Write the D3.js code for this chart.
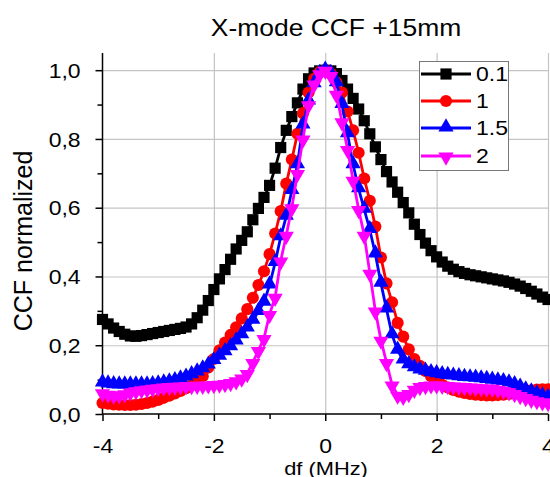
<!DOCTYPE html>
<meta charset="utf-8">
<script src="https://d3js.org/d3.v7.min.js"></script>
<style>
  body { margin: 0; background: #fff; }
  text { font-family: "Liberation Sans", Arial, sans-serif; fill: #000; }
</style>
<div id="my_dataviz"></div>
<script>

// frequency offsets (MHz)
var df = [-4.0,-3.9,-3.8,-3.7,-3.6,-3.5,-3.4,-3.3,-3.2,-3.1,-3.0,-2.9,-2.8,-2.7,-2.6,-2.5,-2.4,-2.3,-2.2,-2.1,
  -2.0,-1.9,-1.8,-1.7,-1.6,-1.5,-1.4,-1.3,-1.2,-1.1,-1.0,-0.9,-0.8,-0.7,-0.6,-0.5,-0.4,-0.3,-0.2,-0.1,
  0.0,0.1,0.2,0.3,0.4,0.5,0.6,0.7,0.8,0.9,1.0,1.1,1.2,1.3,1.4,1.5,1.6,1.7,1.8,1.9,
  2.0,2.1,2.2,2.3,2.4,2.5,2.6,2.7,2.8,2.9,3.0,3.1,3.2,3.3,3.4,3.5,3.6,3.7,3.8,3.9,4.0];

var ccf_01 = [0.275,0.262,0.250,0.240,0.232,0.227,0.226,0.228,0.231,0.234,0.237,0.240,0.243,0.246,0.249,0.253,0.262,0.280,0.302,0.330,
  0.362,0.393,0.420,0.450,0.480,0.505,0.530,0.565,0.598,0.630,0.665,0.715,0.775,0.825,0.865,0.905,0.945,0.975,0.992,0.998,
  1.000,0.998,0.990,0.970,0.945,0.918,0.887,0.853,0.815,0.777,0.740,0.705,0.675,0.645,0.615,0.585,0.552,0.522,0.497,0.475,
  0.457,0.442,0.430,0.421,0.414,0.409,0.405,0.402,0.399,0.396,0.393,0.390,0.387,0.383,0.378,0.372,0.365,0.357,0.349,0.340,0.333];

var ccf_1 = [0.032,0.030,0.028,0.027,0.026,0.026,0.027,0.029,0.032,0.036,0.041,0.047,0.053,0.060,0.067,0.075,0.084,0.095,0.110,0.135,
  0.160,0.185,0.208,0.230,0.252,0.278,0.305,0.338,0.375,0.415,0.465,0.525,0.590,0.670,0.740,0.815,0.875,0.935,0.975,0.995,
  1.000,0.990,0.965,0.935,0.880,0.825,0.760,0.685,0.620,0.545,0.455,0.380,0.325,0.265,0.225,0.188,0.160,0.140,0.125,0.110,
  0.095,0.085,0.077,0.070,0.065,0.061,0.058,0.056,0.055,0.054,0.054,0.055,0.056,0.058,0.060,0.063,0.066,0.069,0.071,0.072,0.072];

var ccf_15 = [0.090,0.087,0.085,0.084,0.084,0.084,0.084,0.084,0.084,0.085,0.087,0.090,0.093,0.097,0.102,0.107,0.114,0.122,0.131,0.142,
  0.155,0.168,0.181,0.195,0.212,0.230,0.250,0.272,0.298,0.325,0.375,0.440,0.515,0.575,0.650,0.725,0.840,0.910,0.960,0.990,
  1.000,0.990,0.963,0.900,0.815,0.725,0.655,0.595,0.536,0.465,0.380,0.305,0.230,0.185,0.157,0.143,0.134,0.128,0.124,0.120,
  0.117,0.114,0.112,0.110,0.108,0.106,0.105,0.104,0.102,0.100,0.098,0.096,0.094,0.090,0.085,0.078,0.070,0.064,0.058,0.052,0.048];

var ccf_2 = [0.062,0.058,0.055,0.056,0.059,0.064,0.068,0.071,0.073,0.075,0.077,0.079,0.080,0.081,0.082,0.083,0.083,0.084,0.084,0.085,
  0.086,0.087,0.089,0.092,0.097,0.105,0.118,0.150,0.185,0.220,0.290,0.340,0.445,0.520,0.600,0.700,0.800,0.900,0.960,0.990,
  1.000,0.985,0.930,0.850,0.770,0.680,0.595,0.520,0.410,0.300,0.215,0.150,0.085,0.055,0.052,0.060,0.072,0.080,0.083,0.085,
  0.085,0.084,0.083,0.082,0.081,0.080,0.079,0.078,0.077,0.076,0.075,0.072,0.069,0.065,0.060,0.054,0.048,0.043,0.039,0.036,0.034];

var seriesNames = ["0.1", "1", "1.5", "2"];
var seriesValues = [ccf_01, ccf_1, ccf_15, ccf_2];
var seriesColors = ["#000000", "#ff0000", "#0000ff", "#ff00ff"];
var seriesSymbols = ["square", "circle", "triangle", "triangleDown"];

var xTicks = [-4, -2, 0, 2, 4];
var xMinorTicks = [-3, -1, 1, 3];
var yTicks = [0, 0.2, 0.4, 0.6, 0.8, 1.0];
var yMinorTicks = [0.1, 0.3, 0.5, 0.7, 0.9];

// set the dimensions and margins of the graph
var margin = {top: 53, right: 2, bottom: 63, left: 102.5},
    width = 550 - margin.left - margin.right,
    height = 477 - margin.top - margin.bottom;

// text in the picture is a bit stretched horizontally
var sx = 1.15;

var root = d3.select("#my_dataviz")
  .append("svg")
    .attr("width", 550)
    .attr("height", 477);

var svg = root.append("g")
    .attr("transform", "translate(" + margin.left + "," + margin.top + ")");

var x = d3.scaleLinear().domain([-4, 4]).range([0, width]);
var y = d3.scaleLinear().domain([0, 1.05]).range([height, 0]);

// grid
svg.append("g")
  .attr("transform", "translate(0," + height + ")")
  .call(d3.axisBottom(x).tickValues([-2, 0, 2, 4]).tickSize(-height).tickFormat(""))
  .call(function(g) { g.select(".domain").remove(); })
  .selectAll("line").attr("stroke", "#c4c4c4").attr("stroke-width", 1.2);

svg.append("g")
  .call(d3.axisLeft(y).tickValues([0.2, 0.4, 0.6, 0.8, 1.0]).tickSize(-width).tickFormat(""))
  .call(function(g) { g.select(".domain").remove(); })
  .selectAll("line").attr("stroke", "#c4c4c4").attr("stroke-width", 1.2);

// minor ticks
svg.append("g")
  .attr("transform", "translate(0," + height + ")")
  .call(d3.axisBottom(x).tickValues(xMinorTicks).tickSize(5).tickFormat(""))
  .call(function(g) { g.select(".domain").remove(); })
  .selectAll("line").attr("stroke", "#000").attr("stroke-width", 1.5);

svg.append("g")
  .call(d3.axisLeft(y).tickValues(yMinorTicks).tickSize(5).tickFormat(""))
  .call(function(g) { g.select(".domain").remove(); })
  .selectAll("line").attr("stroke", "#000").attr("stroke-width", 1.5);

// X axis
var xAxis = svg.append("g")
  .attr("transform", "translate(0," + height + ")")
  .call(d3.axisBottom(x).tickValues(xTicks).tickSize(7).tickPadding(18)
    .tickFormat(function(d) { return String(d); }));
xAxis.select(".domain").attr("stroke-width", 1.5).attr("d", "M0,0H" + width);
xAxis.selectAll("line").attr("stroke-width", 1.5);
xAxis.selectAll("text")
  .style("font-size", "20px")
  .attr("transform", "scale(" + sx + ",1)");

// Y axis
var yAxis = svg.append("g")
  .call(d3.axisLeft(y).tickValues(yTicks).tickSize(7).tickPadding(12)
    .tickFormat(function(d) { return d.toFixed(1).replace(".", ","); }));
yAxis.select(".domain").attr("stroke-width", 1.5).attr("d", "M0," + height + "V0");
yAxis.selectAll("line").attr("stroke-width", 1.5);
yAxis.selectAll("text")
  .style("font-size", "20px")
  .attr("dy", "0.36em")
  .attr("transform", "scale(" + sx + ",1)");

// symbols
function symbolPath(kind) {
  if (kind == "square") return d3.symbol().type(d3.symbolSquare).size(125)();
  if (kind == "circle") return d3.symbol().type(d3.symbolCircle).size(115)();
  return d3.symbol().type(d3.symbolTriangle).size(100)();
}
function symbolTransform(kind, px, py) {
  if (kind == "triangle") return "translate(" + px + "," + (py - 1) + ")";
  if (kind == "triangleDown") return "translate(" + px + "," + (py + 1) + ") rotate(180)";
  return "translate(" + px + "," + py + ")";
}

// series
seriesValues.forEach(function(vals, i) {
  var pts = df.map(function(d, j) { return {x: d, y: vals[j]}; });
  svg.append("path")
    .datum(pts)
    .attr("fill", "none")
    .attr("stroke", seriesColors[i])
    .attr("stroke-width", 2.8)
    .attr("d", d3.line()
      .x(function(d) { return x(d.x); })
      .y(function(d) { return y(d.y); }));
  svg.append("g")
    .selectAll("path")
    .data(pts)
    .enter()
    .append("path")
      .attr("d", symbolPath(seriesSymbols[i]))
      .attr("transform", function(d) { return symbolTransform(seriesSymbols[i], x(d.x), y(d.y)); })
      .attr("fill", seriesColors[i]);
});

// legend
var legend = root.append("g");
legend.append("rect")
  .attr("x", 419.5).attr("y", 61.5).attr("width", 89).attr("height", 109)
  .attr("fill", "#fff").attr("stroke", "#777").attr("stroke-width", 1);
var legendY = [74, 101, 128, 156];
seriesNames.forEach(function(name, i) {
  legend.append("line")
    .attr("x1", 421).attr("x2", 471)
    .attr("y1", legendY[i]).attr("y2", legendY[i])
    .attr("stroke", seriesColors[i]).attr("stroke-width", 2.8);
  legend.append("path")
    .attr("d", symbolPath(seriesSymbols[i]))
    .attr("transform", symbolTransform(seriesSymbols[i], 446, legendY[i]))
    .attr("fill", seriesColors[i]);
  legend.append("text")
    .attr("transform", "translate(476," + (legendY[i] + 7) + ") scale(" + sx + ",1)")
    .style("font-size", "20px")
    .text(name);
});

// title
root.append("text")
  .attr("transform", "translate(336,36) scale(" + sx + ",1)")
  .attr("text-anchor", "middle")
  .style("font-size", "23px")
  .text("X-mode CCF +15mm");

// axis labels
root.append("text")
  .attr("transform", "translate(326,475) scale(" + sx + ",1)")
  .attr("text-anchor", "middle")
  .style("font-size", "19px")
  .text("df (MHz)");

root.append("text")
  .attr("transform", "translate(32,241) rotate(-90)")
  .attr("text-anchor", "middle")
  .style("font-size", "25px")
  .text("CCF normalized");

</script>
